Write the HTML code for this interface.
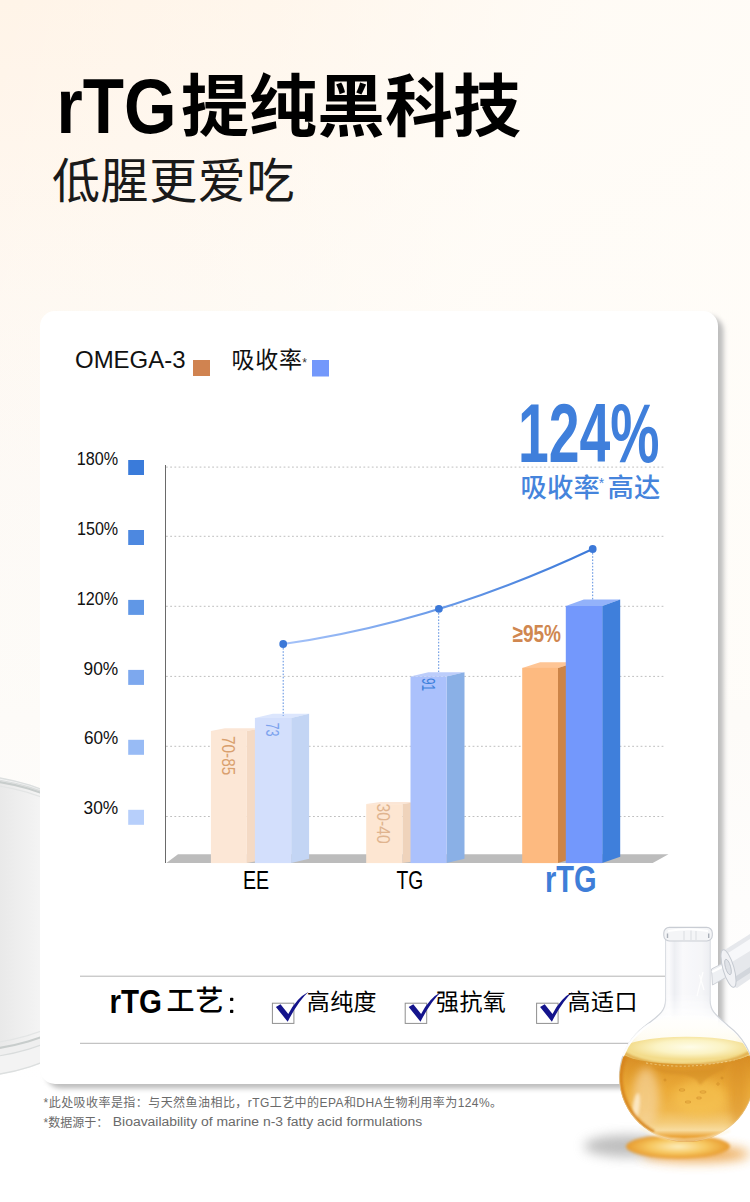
<!DOCTYPE html>
<html lang="zh"><head><meta charset="utf-8"><title>rTG</title>
<style>html,body{margin:0;padding:0;background:#fff}body{width:750px;height:1202px;overflow:hidden;font-family:"Liberation Sans",sans-serif}svg{display:block}svg text{font-family:"Liberation Sans","Noto Sans CJK SC",sans-serif}</style>
</head><body>
<svg width="750" height="1202" viewBox="0 0 750 1202" role="img" aria-label="rTG提纯黑科技 低腥更爱吃">
<desc>rTG提纯黑科技 低腥更爱吃。OMEGA-3 吸收率* 124% 吸收率*高达。180% 150% 120% 90% 60% 30%。EE 70-85 73；TG 30-40 91；rTG ≥95%。rTG工艺: 高纯度 强抗氧 高适口。*此处吸收率是指：与天然鱼油相比，rTG工艺中的EPA和DHA生物利用率为124%。*数据源于：Bioavailability of marine n-3 fatty acid formulations</desc>
<defs>
<linearGradient id="bgv" x1="0" y1="0" x2="0" y2="1"><stop offset="0" stop-color="#fff4e8"/><stop offset="0.12" stop-color="#fff6ec"/><stop offset="0.25" stop-color="#fef8f1"/><stop offset="0.4" stop-color="#fdf9f5"/><stop offset="0.6" stop-color="#fdfbf8"/><stop offset="0.75" stop-color="#fefdfc"/><stop offset="0.9" stop-color="#ffffff"/></linearGradient>
<linearGradient id="bgh" x1="0" y1="0" x2="1" y2="0.25"><stop offset="0" stop-color="#fffdf9" stop-opacity="0"/><stop offset="0.35" stop-color="#fffdf9" stop-opacity="0.25"/><stop offset="0.7" stop-color="#fffdf9" stop-opacity="0.75"/><stop offset="1" stop-color="#fffdf9" stop-opacity="0.85"/></linearGradient>
<linearGradient id="dishg" gradientUnits="userSpaceOnUse" x1="0" y1="0" x2="44" y2="0"><stop offset="0" stop-color="#e9e9e9"/><stop offset="1" stop-color="#f5f5f5"/></linearGradient>
<filter id="blur6" x="-20%" y="-20%" width="140%" height="140%"><feGaussianBlur stdDeviation="5"/></filter>
<filter id="blur3" x="-5%" y="-5%" width="110%" height="110%"><feGaussianBlur stdDeviation="2.6"/></filter>
<filter id="blur10" x="-30%" y="-30%" width="160%" height="160%"><feGaussianBlur stdDeviation="9"/></filter>
<linearGradient id="curve" gradientUnits="userSpaceOnUse" x1="283" y1="0" x2="593" y2="0"><stop offset="0" stop-color="#a6c3f9"/><stop offset="0.45" stop-color="#6f9eea"/><stop offset="1" stop-color="#3b79d9"/></linearGradient>
</defs>
<rect width="750" height="1202" fill="url(#bgv)"/>
<rect width="750" height="700" fill="url(#bgh)"/>
<g id="dish">
<ellipse cx="-40" cy="926" rx="190" ry="152" fill="#f3f3f3"/>
<ellipse cx="-40" cy="926" rx="189.5" ry="151.5" fill="none" stroke="#dcdfdf" stroke-width="1.5"/>
<ellipse cx="-40" cy="918" rx="187" ry="141" fill="#efefef" stroke="#d9dcdc" stroke-width="1.2"/>
<ellipse cx="-40" cy="915" rx="185" ry="136" fill="url(#dishg)" stroke="#c8cdcc" stroke-width="2.2"/>
<ellipse cx="-40" cy="914" rx="181" ry="131" fill="none" stroke="#e3e5e5" stroke-width="1.2"/>
</g>
<rect x="46" y="316" width="677.5" height="772.5" rx="15" fill="#bdbdbd" filter="url(#blur3)"/>
<rect x="40" y="311" width="678" height="773" rx="15" fill="#ffffff"/>
<text x="56.5" y="132.5" font-size="78" font-weight="bold" fill="#000" textLength="120" lengthAdjust="spacingAndGlyphs">rTG</text>
<text x="181" y="131" font-size="68" font-weight="bold" fill="#000" textLength="340" lengthAdjust="spacing">提纯黑科技</text>
<text x="52" y="198" font-size="48" fill="#1a1a1a" letter-spacing="0.6">低腥更爱吃</text>
<text x="75" y="368" font-size="24" fill="#111" textLength="110.5" lengthAdjust="spacingAndGlyphs">OMEGA-3</text>
<rect x="193" y="360" width="17" height="16" fill="#d08350"/>
<text x="231.5" y="368" font-size="23" fill="#111" letter-spacing="0.8">吸收率</text>
<text x="302.3" y="367.3" font-size="12" fill="#333">*</text>
<rect x="312" y="360" width="17" height="16.5" fill="#7398fb"/>
<text x="76.8" y="465" font-size="18.8" fill="#111" textLength="41.4" lengthAdjust="spacingAndGlyphs">180%</text>
<rect x="128.2" y="460" width="15.8" height="15" fill="#3a7bda"/>
<text x="77" y="534.9" font-size="18.8" fill="#111" textLength="41.2" lengthAdjust="spacingAndGlyphs">150%</text>
<rect x="128.2" y="530" width="15.8" height="15" fill="#4d88e0"/>
<text x="76.8" y="604.7" font-size="18.8" fill="#111" textLength="41.4" lengthAdjust="spacingAndGlyphs">120%</text>
<rect x="128.2" y="599.9" width="15.8" height="15" fill="#6097e6"/>
<text x="83.5" y="674.6" font-size="18.8" fill="#111" textLength="34.7" lengthAdjust="spacingAndGlyphs">90%</text>
<rect x="128.2" y="669.9" width="15.8" height="15" fill="#7da8ee"/>
<text x="83.9" y="744.4" font-size="18.8" fill="#111" textLength="34.3" lengthAdjust="spacingAndGlyphs">60%</text>
<rect x="128.2" y="739.8" width="15.8" height="15" fill="#98bbf5"/>
<text x="83.5" y="814.2" font-size="18.8" fill="#111" textLength="34.7" lengthAdjust="spacingAndGlyphs">30%</text>
<rect x="128.2" y="809.8" width="15.8" height="15" fill="#b7cffb"/>
<line x1="166" y1="467.1" x2="664" y2="467.1" stroke="#bfbfbf" stroke-width="1" stroke-dasharray="1.8 2.4"/>
<line x1="166" y1="536.3" x2="664" y2="536.3" stroke="#bfbfbf" stroke-width="1" stroke-dasharray="1.8 2.4"/>
<line x1="166" y1="606.3" x2="664" y2="606.3" stroke="#bfbfbf" stroke-width="1" stroke-dasharray="1.8 2.4"/>
<line x1="166" y1="676.4" x2="664" y2="676.4" stroke="#bfbfbf" stroke-width="1" stroke-dasharray="1.8 2.4"/>
<line x1="166" y1="746.3" x2="664" y2="746.3" stroke="#bfbfbf" stroke-width="1" stroke-dasharray="1.8 2.4"/>
<line x1="166" y1="816.5" x2="664" y2="816.5" stroke="#bfbfbf" stroke-width="1" stroke-dasharray="1.8 2.4"/>
<line x1="165.5" y1="465" x2="165.5" y2="863" stroke="#6a6a6a" stroke-width="1"/>
<polygon points="166.3,863.1 178,854.3 668.5,854.3 652.7,863.1" fill="#bcbcbc"/>
<polygon points="210.9,731 246.9,731 260.9,728.3 224.9,728.3" fill="#fbe6d6"/>
<polygon points="246.9,731 260.9,728.3 260.9,860.4 246.9,863.1" fill="#f4dac5"/>
<rect x="210.9" y="731" width="36" height="132.1" fill="#fce7d6"/>
<polygon points="254.9,718 291.2,718 309.1,713.7 272.8,713.7" fill="#dce6fd"/>
<polygon points="291.2,718 309.1,713.7 309.1,858.8 291.2,863.1" fill="#c3d5f4"/>
<rect x="254.9" y="718" width="36.3" height="145.1" fill="#d3dffc"/>
<polygon points="366.2,804.1 402.4,804.1 416.4,802.1 380.2,802.1" fill="#fbe6d6"/>
<polygon points="402.4,804.1 416.4,802.1 416.4,861.1 402.4,863.1" fill="#efd3bb"/>
<rect x="366.2" y="804.1" width="36.2" height="59" fill="#fde6d2"/>
<polygon points="410.5,676.5 446.6,676.5 464.5,672.2 428.4,672.2" fill="#bccdfb"/>
<polygon points="446.6,676.5 464.5,672.2 464.5,858.8 446.6,863.1" fill="#8ab0e6"/>
<rect x="410.5" y="676.5" width="36.1" height="186.6" fill="#abc1fc"/>
<polygon points="522.2,667.9 558,667.9 575.9,662.3 540.1,662.3" fill="#fec595"/>
<polygon points="558,667.9 575.9,662.3 575.9,857.5 558,863.1" fill="#cc8447"/>
<rect x="522.2" y="667.9" width="35.8" height="195.2" fill="#fdba80"/>
<polygon points="565.8,606 602.2,606 620.2,599.6 583.8,599.6" fill="#93b2fa"/>
<polygon points="602.2,606 620.2,599.6 620.2,856.7 602.2,863.1" fill="#3f7fdb"/>
<rect x="565.8" y="606" width="36.4" height="257.1" fill="#7398fc"/>
<text transform="translate(222.1 736) rotate(90)" x="0" y="0" font-size="18.4" fill="#d9a06e" textLength="39.2" lengthAdjust="spacingAndGlyphs">70-85</text>
<text transform="translate(266.4 722.4) rotate(90)" x="0" y="0" font-size="18.6" fill="#7da3ee" textLength="14.1" lengthAdjust="spacingAndGlyphs">73</text>
<text transform="translate(377.4 803.6) rotate(90)" x="0" y="0" font-size="18" fill="#e0b48f" textLength="40" lengthAdjust="spacingAndGlyphs">30-40</text>
<text transform="translate(421.9 677.9) rotate(90)" x="0" y="0" font-size="18.2" fill="#3e80db" textLength="13" lengthAdjust="spacingAndGlyphs">91</text>
<path d="M283.2 644 Q436.4 622.6 592.7 549" fill="none" stroke="url(#curve)" stroke-width="2"/>
<line x1="283.2" y1="648" x2="283.2" y2="716" stroke="#5c8fe0" stroke-width="1" stroke-dasharray="1.6 1.6"/>
<line x1="438.7" y1="613" x2="438.7" y2="672" stroke="#5c8fe0" stroke-width="1" stroke-dasharray="1.6 1.6"/>
<line x1="592.7" y1="553" x2="592.7" y2="600" stroke="#5c8fe0" stroke-width="1" stroke-dasharray="1.6 1.6"/>
<circle cx="283.2" cy="644" r="3.9" fill="#3b78d8"/>
<circle cx="438.9" cy="608.8" r="3.9" fill="#3b78d8"/>
<circle cx="592.7" cy="549" r="3.9" fill="#3b78d8"/>
<text x="243" y="889" font-size="25" fill="#000" textLength="26.2" lengthAdjust="spacingAndGlyphs">EE</text>
<text x="396.5" y="889" font-size="25" fill="#000" textLength="26.8" lengthAdjust="spacingAndGlyphs">TG</text>
<text x="545" y="892.2" font-size="36" font-weight="bold" fill="#3e7ed8" textLength="51.6" lengthAdjust="spacingAndGlyphs">rTG</text>
<text x="512.5" y="641.7" font-size="24.5" font-weight="bold" fill="#d08750" textLength="48.5" lengthAdjust="spacingAndGlyphs">≥95%</text>
<text x="518" y="462.3" font-size="83" font-weight="bold" fill="#3f7fdb" textLength="141.6" lengthAdjust="spacingAndGlyphs">124%</text>
<text x="520.5" y="497" font-size="26.3" font-weight="500" fill="#4584dc" letter-spacing="0.2">吸收率</text>
<text x="598.7" y="488.2" font-size="14" fill="#4584dc">*</text>
<text x="607.5" y="497" font-size="26.3" font-weight="500" fill="#4584dc" letter-spacing="0.2">高达</text>
<line x1="80" y1="976.2" x2="666" y2="976.2" stroke="#b4b4b4" stroke-width="1"/>
<line x1="80" y1="1043.3" x2="666" y2="1043.3" stroke="#b4b4b4" stroke-width="1"/>
<text x="109.5" y="1013.1" font-size="33" font-weight="bold" fill="#000" textLength="52.5" lengthAdjust="spacingAndGlyphs">rTG</text>
<text x="166.5" y="1011" font-size="28" font-weight="500" fill="#000" letter-spacing="1">工艺</text>
<rect x="230" y="997.8" width="3.3" height="3.3" rx="0.8" fill="#000"/><rect x="230" y="1009.8" width="3.3" height="3.3" rx="0.8" fill="#000"/>
<rect x="272.4" y="1003.2" width="21.5" height="20.2" fill="#fff" stroke="#8f8f8f" stroke-width="1"/>
<path transform="translate(0 0)" fill="#14148c" d="M275.9 1007 L280.5 1004.3 L288.3 1013.9 Q296.5 998 308.6 991.7 Q298.5 1000.5 287.7 1021.7 Z"/>
<text x="306.8" y="1010.2" font-size="23" fill="#000" letter-spacing="0.4">高纯度</text>
<rect x="405.2" y="1003.2" width="21.5" height="20.2" fill="#fff" stroke="#8f8f8f" stroke-width="1"/>
<path transform="translate(132.8 0)" fill="#14148c" d="M275.9 1007 L280.5 1004.3 L288.3 1013.9 Q296.5 998 308.6 991.7 Q298.5 1000.5 287.7 1021.7 Z"/>
<text x="436" y="1010.2" font-size="23" fill="#000" letter-spacing="0.4">强抗氧</text>
<rect x="536.6" y="1003.2" width="21.5" height="20.2" fill="#fff" stroke="#8f8f8f" stroke-width="1"/>
<path transform="translate(264.2 0)" fill="#14148c" d="M275.9 1007 L280.5 1004.3 L288.3 1013.9 Q296.5 998 308.6 991.7 Q298.5 1000.5 287.7 1021.7 Z"/>
<text x="567.6" y="1010.2" font-size="23" fill="#000" letter-spacing="0.4">高适口</text>
<text x="43.6" y="1107" font-size="12" fill="#6a6a6a" textLength="458.5" lengthAdjust="spacing">*此处吸收率是指：与天然鱼油相比，rTG工艺中的EPA和DHA生物利用率为124%。</text>
<text x="43.6" y="1126.6" font-size="12" fill="#6a6a6a">*数据源于：</text>
<text x="112.8" y="1126.4" font-size="12.3" fill="#6a6a6a" textLength="309.5" lengthAdjust="spacingAndGlyphs">Bioavailability of marine n-3 fatty acid formulations</text>
<g id="flask">
<defs>
<linearGradient id="liqv" gradientUnits="userSpaceOnUse" x1="0" y1="1058" x2="0" y2="1143"><stop offset="0" stop-color="#d98f26"/><stop offset="0.14" stop-color="#e09a2c"/><stop offset="0.38" stop-color="#ecac3a"/><stop offset="0.62" stop-color="#f0b84e"/><stop offset="0.76" stop-color="#f4cb78"/><stop offset="0.85" stop-color="#f8dc9f"/><stop offset="0.92" stop-color="#eba63c"/><stop offset="1" stop-color="#e09228"/></linearGradient>
<linearGradient id="neckg" x1="0" y1="0" x2="1" y2="0"><stop offset="0" stop-color="#c9cdd4"/><stop offset="0.06" stop-color="#eceef2"/><stop offset="0.22" stop-color="#fafafc"/><stop offset="0.3" stop-color="#e9ebf0"/><stop offset="0.42" stop-color="#f8f8fb"/><stop offset="0.7" stop-color="#f3f4f7"/><stop offset="0.86" stop-color="#e6e8ed"/><stop offset="0.95" stop-color="#f5f6f8"/><stop offset="1" stop-color="#c6cbd2"/></linearGradient>
<radialGradient id="surf" gradientUnits="userSpaceOnUse" cx="690" cy="1047" r="62" gradientTransform="translate(0 837.6) scale(1 0.2)"><stop offset="0" stop-color="#fefce8"/><stop offset="0.55" stop-color="#fbf3c4"/><stop offset="1" stop-color="#f3dc8c"/></radialGradient>
<radialGradient id="glow" cx="0.5" cy="0.5" r="0.5"><stop offset="0" stop-color="#fdeebd"/><stop offset="0.55" stop-color="#f7c860"/><stop offset="1" stop-color="#e79a2e"/></radialGradient>
<clipPath id="sph"><ellipse cx="686.7" cy="1078" rx="67.2" ry="64"/></clipPath>
<filter id="fb4" x="-40%" y="-40%" width="180%" height="180%"><feGaussianBlur stdDeviation="4"/></filter>
<filter id="fb2" x="-40%" y="-40%" width="180%" height="180%"><feGaussianBlur stdDeviation="1.6"/></filter>
<filter id="fb1" x="-40%" y="-40%" width="180%" height="180%"><feGaussianBlur stdDeviation="0.8"/></filter>
<filter id="fb7" x="-50%" y="-100%" width="200%" height="300%"><feGaussianBlur stdDeviation="6"/></filter>
<linearGradient id="nfade" gradientUnits="userSpaceOnUse" x1="0" y1="995" x2="0" y2="1022"><stop offset="0" stop-color="#fff"/><stop offset="1" stop-color="#000"/></linearGradient>
<mask id="nmask" maskUnits="userSpaceOnUse" x="640" y="930" width="110" height="100"><rect x="640" y="930" width="110" height="100" fill="url(#nfade)"/></mask>
<linearGradient id="upg" gradientUnits="userSpaceOnUse" x1="0" y1="1012" x2="0" y2="1064"><stop offset="0" stop-color="#fffefb" stop-opacity="0"/><stop offset="0.3" stop-color="#fffefa" stop-opacity="1"/><stop offset="0.6" stop-color="#fefbee" stop-opacity="1"/><stop offset="1" stop-color="#fbf3d2" stop-opacity="1"/></linearGradient>
</defs>
<!-- floor shadows -->
<ellipse cx="628" cy="1146" rx="44" ry="11" fill="#949494" opacity="0.6" filter="url(#fb7)"/>
<ellipse cx="696" cy="1154" rx="54" ry="8" fill="#e8962e" opacity="0.8" filter="url(#fb7)"/>
<ellipse cx="678" cy="1146.5" rx="52" ry="12" fill="url(#glow)" filter="url(#fb2)"/>
<!-- dropper top-right (behind neck) -->
<g>
<path d="M711.5 969 L727 961 L732 974 L712.5 985 Z" fill="#eef0f3" stroke="#c9cdd4" stroke-width="0.9"/>
<path d="M712 972 L728 964" stroke="#ffffff" stroke-width="2.5"/>
<path d="M723 951 L750 934 L750 979 L737 988 Q727 986 723.5 972 Z" fill="#e6e8ec"/>
<path d="M725 955 L750 939 L750 951 L727 965 Z" fill="#f7f8fa"/>
<path d="M730 980 L750 967 L750 973 L733 984 Z" fill="#d2d6dc"/>
<ellipse cx="728.5" cy="968.5" rx="5.5" ry="19.5" transform="rotate(-16 728.5 968.5)" fill="#f1f2f5" stroke="#c5cad1" stroke-width="1"/>
<ellipse cx="728" cy="967" rx="2.6" ry="8" transform="rotate(-16 728 967)" fill="#dfe2e7" stroke="#b9bfc7" stroke-width="0.8"/>
</g>
<!-- glass body -->
<path d="M665.6 938 L665.6 1000 C665.6 1013 656 1017 645 1026 A67.2 64 0 1 0 728.4 1026 C719 1017 710 1013 710 1000 L710 938 Z" fill="#ffffff" fill-opacity="0.92" stroke="#cfd3d9" stroke-width="1.2"/>
<!-- neck shading -->
<path d="M665.6 938 L665.6 1000 C665.6 1010 660 1015 654 1020 L722 1020 C716 1015 710 1010 710 1000 L710 938 Z" fill="url(#neckg)" opacity="0.8" mask="url(#nmask)"/>
<path d="M699.5 975 L704 990 M703 972 L697 996" stroke="#ffffff" stroke-width="1.2" opacity="0.9"/>
<g clip-path="url(#sph)">
<!-- upper glass tint -->
<rect x="615" y="1012" width="145" height="52" fill="url(#upg)"/>
<ellipse cx="626" cy="1048" rx="8" ry="14" fill="#f6e7b8" opacity="0.6" filter="url(#fb4)"/>
<ellipse cx="749" cy="1048" rx="8" ry="14" fill="#f6e7b8" opacity="0.6" filter="url(#fb4)"/>
<!-- liquid body -->
<path d="M615 1050 Q640 1062 686 1064 T760 1050 L760 1150 L615 1150 Z" fill="url(#liqv)"/>
<!-- lighter left zone & reflections -->
<ellipse cx="646" cy="1098" rx="13" ry="30" fill="#f6d49c" opacity="0.7" filter="url(#fb4)"/>
<ellipse cx="636" cy="1108" rx="3.5" ry="15" transform="rotate(8 636 1108)" fill="#fff3dc" opacity="0.75" filter="url(#fb2)"/>
<!-- right darker band -->
<ellipse cx="738" cy="1092" rx="9" ry="36" fill="#d78d26" opacity="0.5" filter="url(#fb4)"/>
<!-- center glow -->
<ellipse cx="700" cy="1098" rx="26" ry="18" fill="#f7c452" opacity="0.6" filter="url(#fb4)"/>
<!-- left dark edge -->
<path d="M625 1056.7 A65.6 62.4 0 0 0 653.9 1132" fill="none" stroke="#d5821c" stroke-width="3.4" opacity="0.9" filter="url(#fb1)"/>
<!-- surface -->
<ellipse cx="686.7" cy="1050.5" rx="66" ry="13.8" fill="url(#surf)"/>
<!-- front rim of surface, foam -->
<path d="M622 1052 Q640 1062.5 664 1064.5 Q690 1066.5 716 1063 Q738 1060 752 1051" fill="none" stroke="#d99a32" stroke-width="2.6" opacity="0.85" filter="url(#fb1)"/>
<path d="M646 1063 Q670 1067 690 1066 T735 1060" fill="none" stroke="#f6dc98" stroke-width="1" stroke-dasharray="2 2.2" opacity="0.7"/>
<path d="M652 1067 Q675 1072 700 1069 Q712 1068 726 1064 L724 1070 Q708 1076 703 1082 Q700 1088 697 1080 Q690 1074 672 1074 Q660 1073 652 1067 Z" fill="#d48e28" opacity="0.55" filter="url(#fb1)"/>
<!-- bubbles -->
<g fill="none" stroke="#c98424" stroke-width="0.7" opacity="0.8"><ellipse cx="682" cy="1090" rx="3" ry="1.1"/><ellipse cx="703" cy="1092" rx="3.2" ry="1.1"/><ellipse cx="699" cy="1098" rx="2.6" ry="1"/><ellipse cx="688" cy="1102" rx="3" ry="1"/><circle cx="718" cy="1084" r="1.2"/><circle cx="665" cy="1080" r="1"/><circle cx="722" cy="1078" r="1"/></g>
</g>
<!-- sphere outline & highlights -->
<path d="M622 1060 A67.2 64 0 1 0 751.4 1060" fill="none" stroke="#e7c590" stroke-width="0.8" opacity="0.7"/>
<path d="M623 1056 A67.2 64 0 0 1 650 1024" fill="none" stroke="#ffffff" stroke-width="2.2" opacity="0.9"/>
<path d="M640 1128 Q676 1150 730 1131" fill="none" stroke="#fff4d6" stroke-width="1.5" opacity="0.8" filter="url(#fb1)"/>
<!-- rim -->
<rect x="663.8" y="927.4" width="48.5" height="13.6" rx="5.5" fill="#f4f5f7" stroke="#c9cdd4" stroke-width="1.1"/>
<path d="M668 931 Q688 927.5 708 931" fill="none" stroke="#ffffff" stroke-width="2"/>
<path d="M667.5 933.5 L667.5 938 M708.7 933.5 L708.7 938" stroke="#aab0b9" stroke-width="1.4"/>
<path d="M684 931 L684 940 M691 930.5 L691 940 M696 931 L696 940" stroke="#dcdfe4" stroke-width="1.1"/>
</g>

</svg>
</body></html>
